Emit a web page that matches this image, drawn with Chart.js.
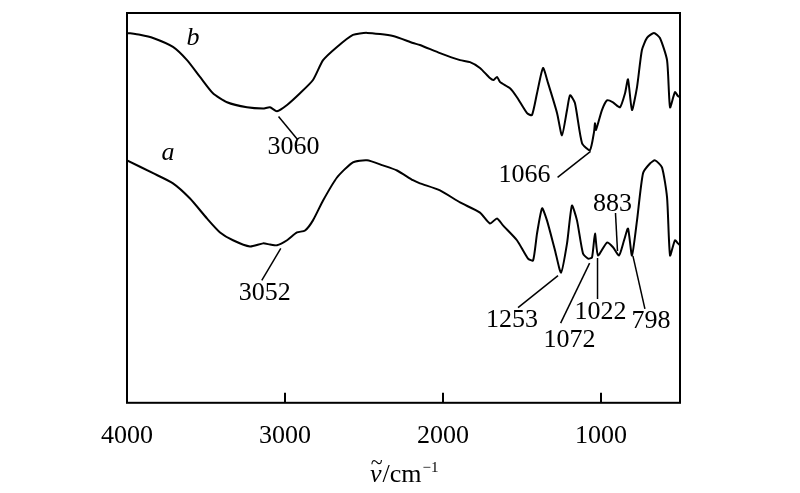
<!DOCTYPE html>
<html>
<head>
<meta charset="utf-8">
<script src="https://cdn.jsdelivr.net/npm/chart.js@4.4.1/dist/chart.umd.min.js"></script>
<style>
  html, body { margin: 0; padding: 0; background: #fff; }
  canvas { display: block; }
</style>
</head>
<body>
<canvas id="ir" width="800" height="493"></canvas>
<script>
// wavenumber (cm-1) and relative transmittance
const wnB = [4000, 3918, 3835, 3709, 3620, 3538, 3456, 3367, 3241, 3139, 3095, 3051, 2987, 2905, 2823, 2759, 2671, 2570, 2481, 2316,
  2190, 2146, 2019, 1892, 1829, 1766, 1703, 1680, 1658, 1639, 1576, 1532, 1468, 1437, 1405, 1367, 1335, 1278, 1247, 1215,
  1196, 1165, 1120, 1070, 1044, 1038, 1032, 994, 962, 924, 880, 848, 829, 804, 772, 741, 709, 665, 627, 582,
  563, 532, 513, 500];
const tB = [94.9, 94.4, 93.6, 91.3, 87.9, 83.6, 79.4, 77.1, 75.8, 75.5, 75.8, 74.8, 76.4, 79.4, 82.8, 87.9, 91.3, 94.4, 94.9, 94.1,
  92.3, 91.8, 89.7, 87.9, 87.4, 85.9, 83.3, 82.8, 83.6, 82.3, 80.7, 78.4, 74.3, 73.8, 79.4, 85.9, 82.0, 74.3, 68.6, 75.1,
  78.9, 76.9, 66.6, 64.8, 69.5, 71.7, 70.0, 75.1, 77.6, 77.1, 75.8, 79.4, 83.0, 75.1, 81.0, 90.5, 93.6, 94.9, 93.6, 87.9,
  75.8, 79.7, 78.7, 78.4];

const wnA = [4000, 3835, 3709, 3601, 3494, 3411, 3329, 3222, 3139, 3095, 3051, 2987, 2924, 2873, 2823, 2759, 2671, 2570, 2481, 2380,
  2291, 2190, 2146, 2019, 1892, 1766, 1703, 1658, 1620, 1532, 1462, 1430, 1405, 1373, 1342, 1291, 1253, 1215, 1184, 1152,
  1114, 1082, 1057, 1038, 1019, 962, 924, 886, 854, 829, 804, 772, 734, 690, 658, 614, 582, 563, 532, 513,
  500];
const tA = [62.2, 58.9, 56.3, 52.4, 47.3, 43.7, 41.7, 40.1, 40.9, 40.6, 40.4, 41.7, 43.7, 44.2, 46.8, 51.9, 57.8, 61.7, 62.2, 60.9,
  59.6, 57.1, 56.3, 54.5, 51.4, 48.8, 46.0, 47.3, 45.5, 41.7, 37.0, 36.5, 43.4, 49.9, 46.8, 39.1, 33.4, 40.9, 50.6, 46.8,
  38.3, 37.0, 37.3, 43.4, 37.8, 41.1, 39.9, 37.8, 41.7, 44.7, 37.8, 46.8, 58.9, 61.4, 62.2, 60.4, 52.7, 37.8, 41.7, 40.9,
  40.4];

const xTicks = [4000, 3000, 2000, 1000];

// peak labels: series index (0 = b, 1 = a) and wavenumber
const peakSeries = [0, 0, 1, 1, 1, 1, 1, 1];
const peakWn = [3060, 1066, 3052, 1253, 1072, 1022, 883, 798];

const seriesNames = ['b', 'a'];
const seriesNameAt = [[3582, 93.6], [3740, 64.0]];

// leader line start / end and text centre, offsets in px from the curve point
const peakLayout = [
  [3, 6, 22, 29, 18, 37],
  [0, 4, -33, 30, -66, 28],
  [4, 3, -15, 35, -12, 48],
  [-3, 3, -43, 35, -49, 48],
  [0, 5, -29, 65, -20, 82],
  [0, 6, 0, 47, 3, 60],
  [-2, -3, -4, -41, -7, -50],
  [0, 7, 12, 60, 18, 72]
];

const allWn = [wnB, wnA];
const allT = [tB, tA];

function curveAt(s, wn) {
  const xs = allWn[s], ys = allT[s];
  for (let i = 0; i < xs.length - 1; i++) {
    if (wn <= xs[i] && wn >= xs[i + 1]) {
      const f = (xs[i] - wn) / (xs[i] - xs[i + 1]);
      return ys[i] + f * (ys[i + 1] - ys[i]);
    }
  }
  return ys[ys.length - 1];
}

const FONT = '"Liberation Serif", "Times New Roman", serif';

const decor = {
  id: 'decor',
  afterDraw(chart) {
    const ctx = chart.ctx;
    const x = chart.scales.x, y = chart.scales.y;
    const area = chart.chartArea;
    ctx.save();
    ctx.strokeStyle = '#000';
    ctx.lineWidth = 2;
    ctx.strokeRect(area.left, area.top, area.right - area.left, area.bottom - area.top);

    // inward ticks
    xTicks.forEach(v => {
      const px = x.getPixelForValue(v);
      ctx.beginPath();
      ctx.moveTo(px, area.bottom);
      ctx.lineTo(px, area.bottom - 10);
      ctx.stroke();
    });

    ctx.fillStyle = '#000';
    ctx.textAlign = 'center';
    ctx.textBaseline = 'middle';

    ctx.font = 'italic 26px ' + FONT;
    seriesNames.forEach((n, i) => {
      ctx.fillText(n, x.getPixelForValue(seriesNameAt[i][0]), y.getPixelForValue(seriesNameAt[i][1]));
    });

    ctx.font = '26px ' + FONT;
    ctx.lineWidth = 1.5;
    peakWn.forEach((wn, i) => {
      const cx = x.getPixelForValue(wn);
      const cy = y.getPixelForValue(curveAt(peakSeries[i], wn));
      const o = peakLayout[i];
      ctx.beginPath();
      ctx.moveTo(cx + o[0], cy + o[1]);
      ctx.lineTo(cx + o[2], cy + o[3]);
      ctx.stroke();
      ctx.fillText(String(wn), cx + o[4], cy + o[5]);
    });

    // axis title: nu-tilde / cm^-1
    const base = area.bottom + 79;
    ctx.textAlign = 'left';
    ctx.textBaseline = 'alphabetic';
    ctx.font = 'italic 26px ' + FONT;
    const x0 = 370;
    ctx.fillText('ν', x0, base);
    const nuW = ctx.measureText('ν').width;
    ctx.font = '22px ' + FONT;
    ctx.textAlign = 'center';
    ctx.fillText('~', x0 + nuW / 2 + 1, base - 13);
    ctx.textAlign = 'left';
    ctx.font = '26px ' + FONT;
    const rest = '/cm';
    ctx.fillText(rest, x0 + nuW + 1, base);
    const restW = ctx.measureText(rest).width;
    ctx.font = '15px ' + FONT;
    ctx.fillText('\u22121', x0 + nuW + 2 + restW, base - 10);
    ctx.restore();
  }
};

const ds = (s) => ({
  data: allWn[s].map((w, i) => ({ x: w, y: allT[s][i] })),
  borderColor: '#000',
  borderWidth: 2,
  pointRadius: 0,
  tension: 0.2,
  fill: false
});

new Chart(document.getElementById('ir'), {
  type: 'line',
  data: { datasets: [ds(0), ds(1)] },
  options: {
    responsive: false,
    animation: false,
    layout: { padding: { left: 127, right: 120, top: 13, bottom: 23 } },
    plugins: { legend: { display: false }, tooltip: { enabled: false } },
    scales: {
      x: {
        type: 'linear',
        reverse: true,
        min: 500,
        max: 4000,
        afterBuildTicks: (scale) => { scale.ticks = xTicks.map(v => ({ value: v })); },
        grid: { display: false, drawTicks: false },
        border: { display: false },
        ticks: {
          color: '#000', padding: 18, maxRotation: 0,
          font: { family: FONT, size: 26 },
          callback: (v) => String(v)
        }
      },
      y: {
        display: false,
        min: 0,
        max: 100
      }
    }
  },
  plugins: [decor]
});
</script>
</body>
</html>
